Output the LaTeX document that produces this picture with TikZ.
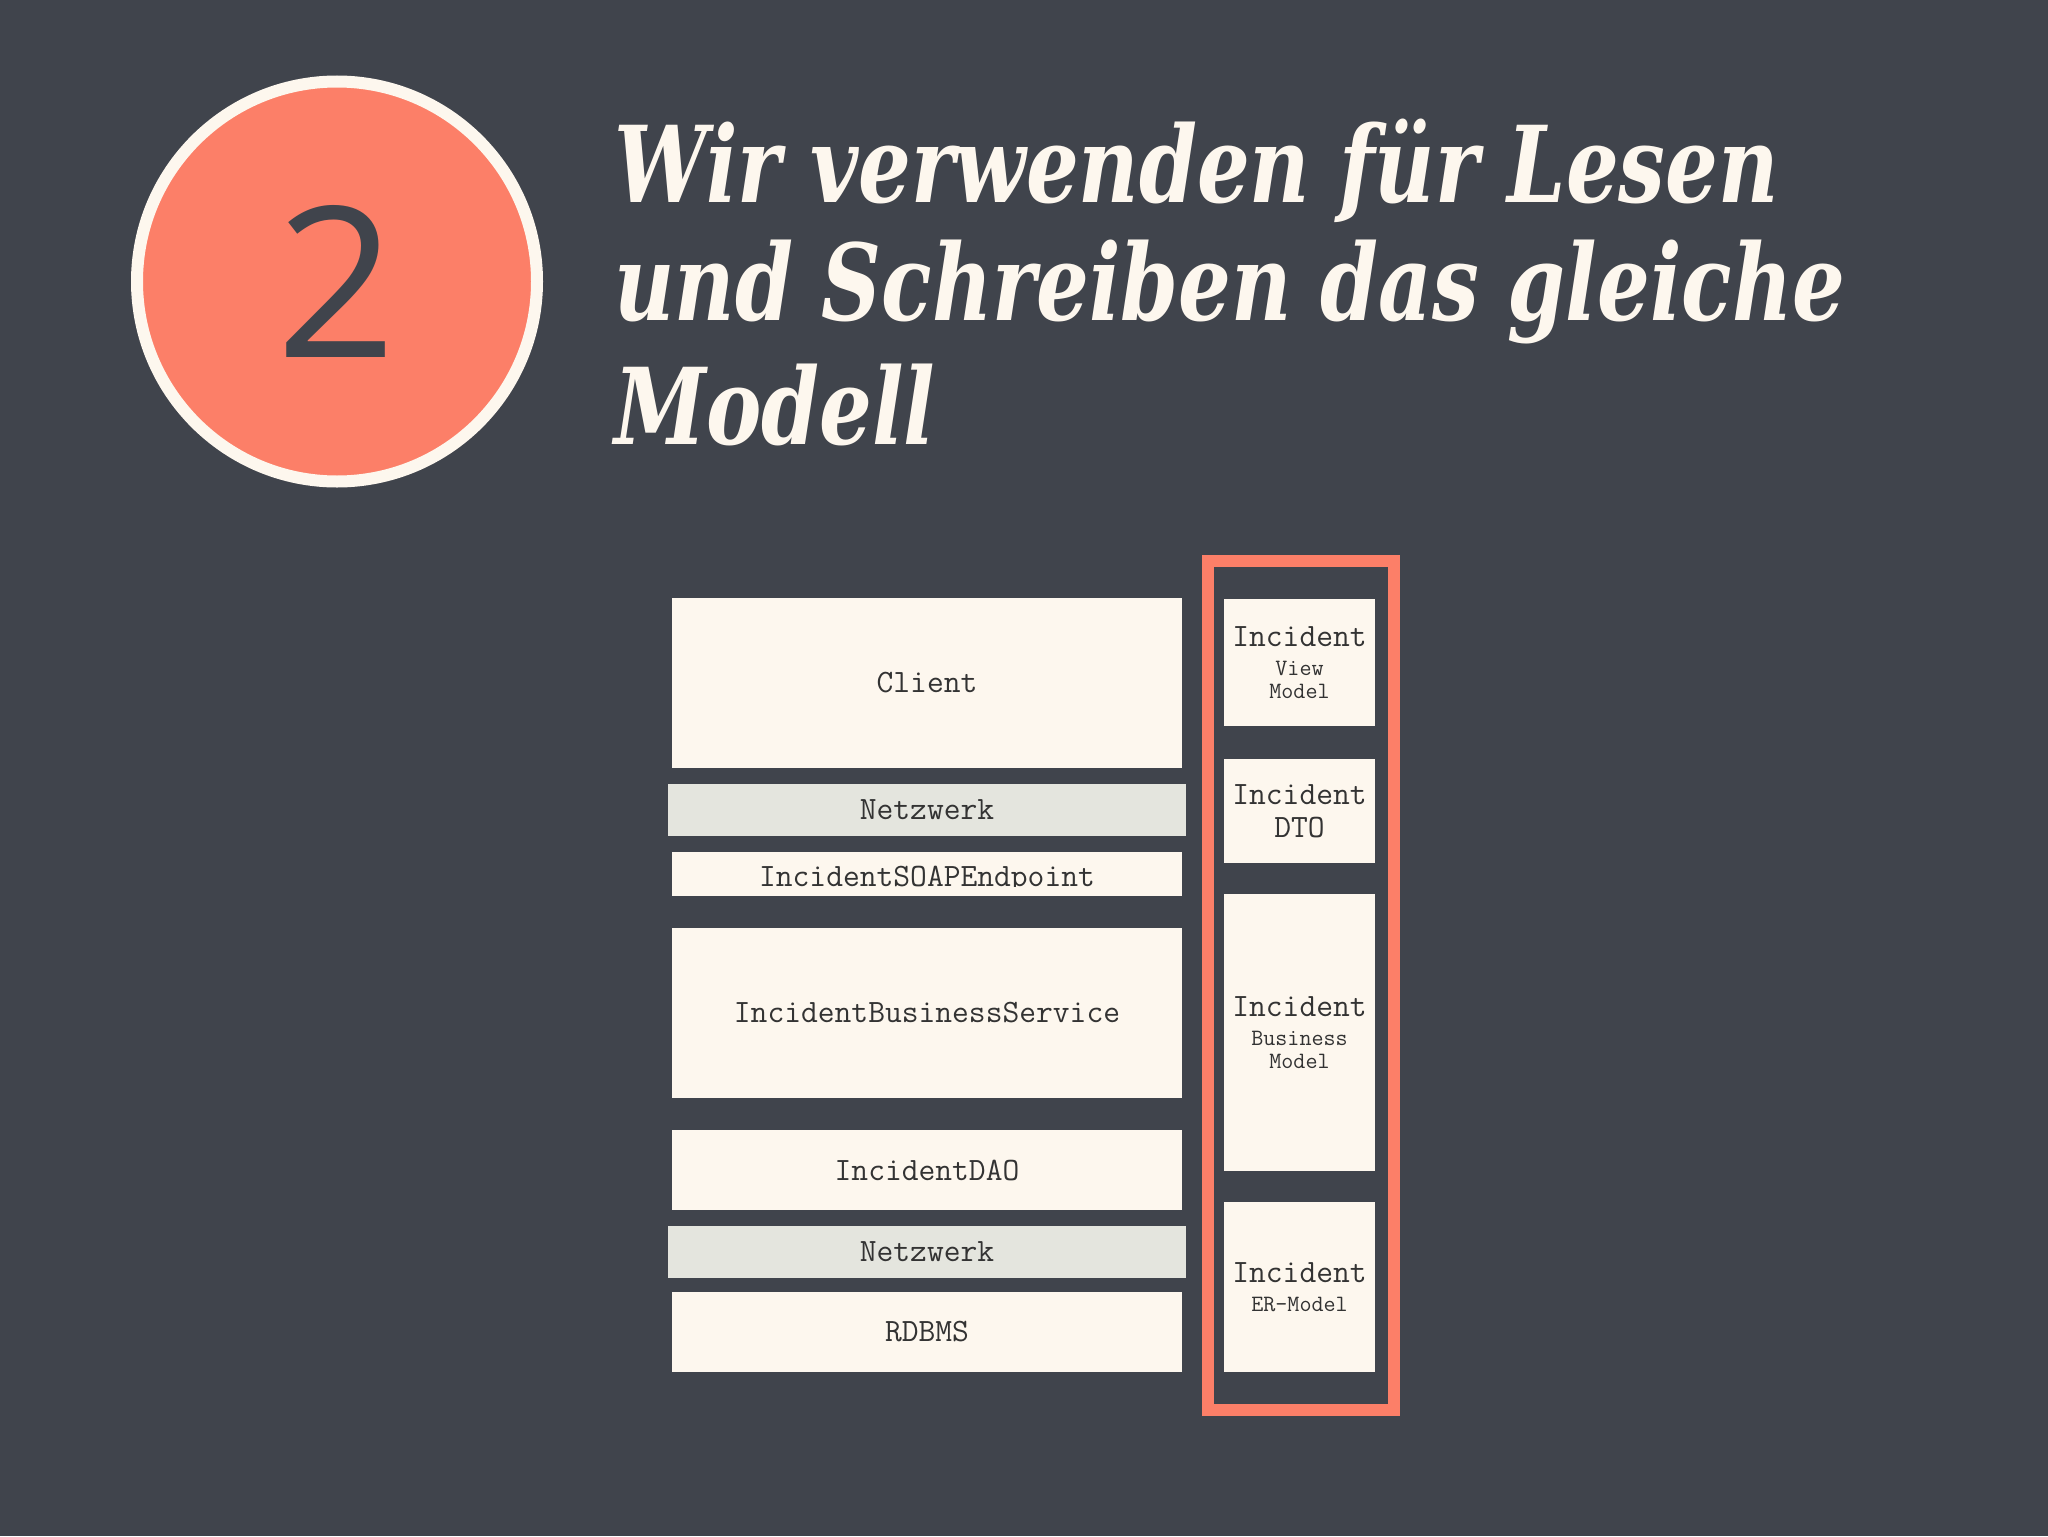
\documentclass[tikz,border=0pt]{standalone}
\usepackage{fontspec}
\newfontfamily\titlefont[FakeStretch=0.87]{DejaVu Serif Condensed}
\newfontfamily\numfont{Open Sans}
\usetikzlibrary{backgrounds}
\usepackage{xcolor}
\definecolor{slate}{HTML}{40444C}
\definecolor{salmon}{HTML}{FC7F68}
\definecolor{cream}{HTML}{FDF7EE}
\definecolor{netgray}{HTML}{E4E5DE}
\definecolor{ink}{HTML}{333333}
\newcommand\subline{\fontsize{11.7}{11.5}\selectfont}

\begin{document}
\begin{tikzpicture}[x=0.5pt, y=-0.5pt, show background rectangle, inner frame sep=0pt,
  background rectangle/.style={fill=slate},
  layer/.style={fill=cream, text=ink, inner sep=0pt, minimum width=255pt, font=\ttfamily\fontsize{16.3}{16}\selectfont},
  net/.style={layer, fill=netgray, minimum width=259pt, minimum height=26pt},
  model/.style={layer, minimum width=75.5pt, align=center, font=\ttfamily\fontsize{16.3}{16.75}\selectfont}]
\useasboundingbox (0,0) rectangle (2048,1536);
\node[circle, fill=salmon, draw=cream, line width=6pt, minimum size=200pt, inner sep=0pt, text=slate, font=\numfont\fontsize{105}{105}\selectfont] (number) at (337,281.5) {2};
\node[anchor=base west, inner sep=0pt, text=cream, font=\titlefont\bfseries\itshape\fontsize{53}{60}\selectfont] (title1) at (614,202) {Wir verwenden für Lesen};
\node[anchor=base west, inner sep=0pt, text=cream, font=\titlefont\bfseries\itshape\fontsize{53}{60}\selectfont] (title2) at (614,320) {und Schreiben das gleiche};
\node[anchor=base west, inner sep=0pt, text=cream, font=\titlefont\bfseries\itshape\fontsize{53}{60}\selectfont] (title3) at (614,444) {Modell};
% layers
\node[layer, minimum height=85pt] (client) at (927,683) {Client};
\node[net] (net1) at (927,810) {Netzwerk};
\node[layer, minimum height=22pt] (soap) at (927,874) {};
\begin{scope}
\clip (672,852) rectangle (1182,886);
\node[anchor=base, inner sep=0pt, text=ink, font=\ttfamily\fontsize{16.3}{16}\selectfont] (soaplabel) at (927,886) {IncidentSOAPEndpoint};
\end{scope}
\node[layer, minimum height=85pt] (service) at (927,1013) {IncidentBusinessService};
\node[layer, minimum height=40pt] (dao) at (927,1170) {IncidentDAO};
\node[net] (net2) at (927,1252) {Netzwerk};
\node[layer, minimum height=40pt] (rdbms) at (927,1332) {RDBMS};
% models
\node[draw=salmon, line width=6pt, minimum width=93pt, minimum height=424.75pt, inner sep=0pt] (frame) at (1301,985.25) {};
\node[model, minimum height=63.5pt] (viewmodel) at (1299.5,662.5) {Incident\\[-2.25pt]\subline View\\[-5.25pt]\subline Model};
\node[model, minimum height=52pt] (dto) at (1299.5,811) {Incident\\DTO};
\node[model, minimum height=138.5pt] (businessmodel) at (1299.5,1032.5) {Incident\\[-2.25pt]\subline Business\\[-5.25pt]\subline Model};
\node[model, minimum height=85pt] (ermodel) at (1299.5,1287) {Incident\\[-2.25pt]\subline ER-Model};
\end{tikzpicture}
\end{document}
